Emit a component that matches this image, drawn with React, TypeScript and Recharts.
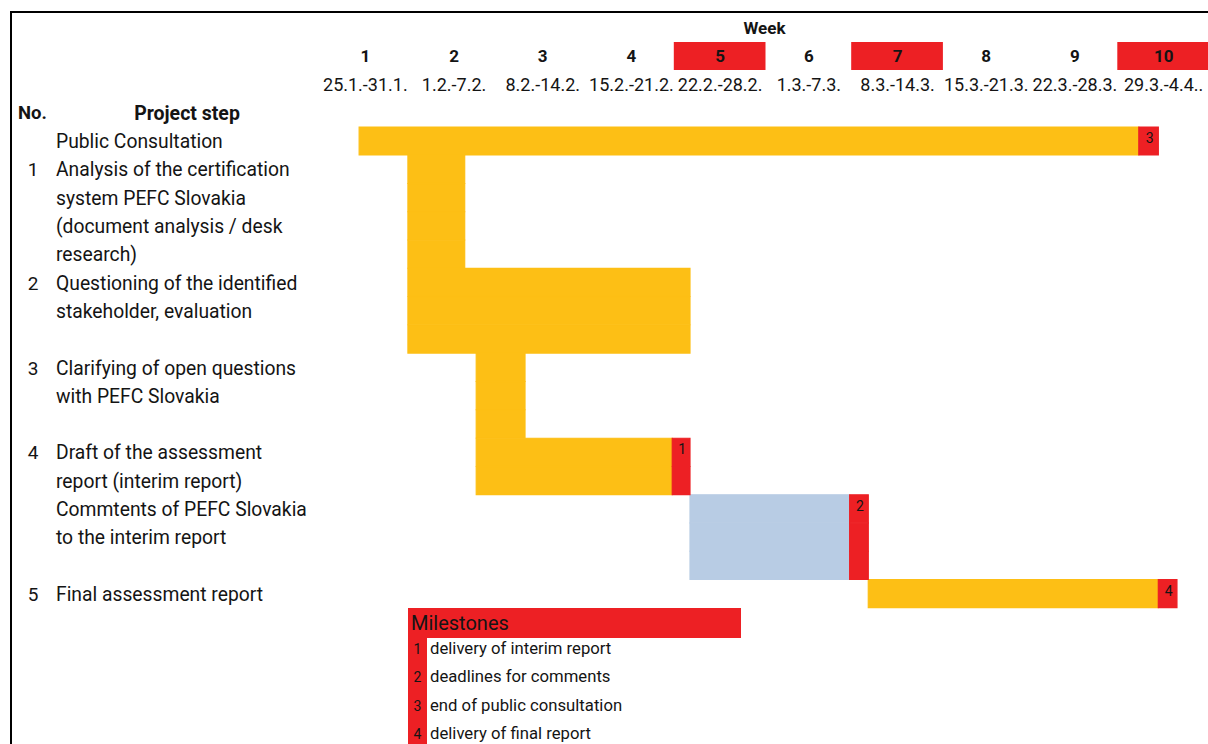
import React from "react";
import { BarChart, Bar, XAxis, YAxis, Cell, LabelList } from "recharts";

// ---- data ----
const weekNumbers = ["1", "2", "3", "4", "5", "6", "7", "8", "9", "10"];
const weekDates = ["25.1.-31.1.", "1.2.-7.2.", "8.2.-14.2.", "15.2.-21.2.", "22.2.-28.2.", "1.3.-7.3.", "8.3.-14.3.", "15.3.-21.3.", "22.3.-28.3.", "29.3.-4.4.."];
const highlightedWeeks = ["5", "7", "10"];

const taskNumbers = ["", "1", "2", "3", "4", "", "5"];
const taskLines = [
  ["Public Consultation"],
  ["Analysis of the certification", "system PEFC Slovakia", "(document analysis / desk", "research)"],
  ["Questioning of the identified", "stakeholder, evaluation", ""],
  ["Clarifying of open questions", "with PEFC Slovakia", ""],
  ["Draft of the assessment", "report (interim report)"],
  ["Commtents of PEFC Slovakia", "to the interim report", ""],
  ["Final assessment report"],
];
// start / end in weeks (0 = start of week 1)
const taskStart = [0.43, 0.98, 0.98, 1.75, 1.75, 4.16, 6.17];
const taskEnd = [9.22, 1.62, 4.16, 2.3, 3.96, 5.96, 9.44];
const milestoneEnd = [9.44, 0, 0, 0, 4.16, 6.17, 9.65];
const milestoneNumbers = ["3", "", "", "", "1", "2", "4"];
const taskKinds = ["work", "work", "work", "work", "work", "review", "work"];

const milestoneLegend = ["delivery of interim report", "deadlines for comments", "end of public consultation", "delivery of final report"];

// ---- styles ----
const YELLOW = "#FDBF15";
const RED = "#ED2024";
const BLUE = "#B8CCE4";
const TEXT = "#141414";
const FONT = "Roboto, 'Liberation Sans', Arial, sans-serif";

type Line = {
  key: string;
  no: string;
  text: string;
  offset: number;
  main: number;
  ms: number;
  msLabel: string;
  kind: string;
};

const lines: Line[] = [];
taskLines.forEach((tl, ti) => {
  tl.forEach((text, li) => {
    lines.push({
      key: `${ti}-${li}`,
      no: li === 0 ? taskNumbers[ti] : "",
      text,
      offset: taskStart[ti],
      main: taskEnd[ti] - taskStart[ti],
      ms: milestoneEnd[ti] ? milestoneEnd[ti] - taskEnd[ti] : 0,
      msLabel: li === 0 ? milestoneNumbers[ti] : "",
      kind: taskKinds[ti],
    });
  });
});

const COL_W = 887 / 10;

const WeekTick = (props: any) => {
  const { x, payload } = props;
  const idx = Math.floor(payload.value);
  const wk = weekNumbers[idx];
  const hi = highlightedWeeks.includes(wk);
  return (
    <g>
      {hi && <rect x={x - COL_W / 2 - 2} y={42} width={COL_W + 3} height={28} fill={RED} />}
      <text x={x} y={56} textAnchor="middle" dominantBaseline="central" fontFamily={FONT} fontWeight={700} fontSize={17} fill={TEXT}>
        {wk}
      </text>
      <text x={x} y={84} textAnchor="middle" dominantBaseline="central" fontFamily={FONT} fontSize={18} fill={TEXT}>
        {weekDates[idx]}
      </text>
    </g>
  );
};

const StepTick = (props: any) => {
  const { y, payload } = props;
  const line = lines.find((l) => l.key === payload.value);
  if (!line) return null;
  return (
    <g>
      <text x={33} y={y + 0.5} textAnchor="middle" dominantBaseline="central" fontFamily={FONT} fontSize={19} fill={TEXT}>
        {line.no}
      </text>
      <text x={56} y={y + 0.5} textAnchor="start" dominantBaseline="central" fontFamily={FONT} fontSize={19.3} fill={TEXT}>
        {line.text}
      </text>
    </g>
  );
};

const MilestoneLabel = (props: any) => {
  const { x, y, width, value } = props;
  if (!value) return null;
  return (
    <text x={x + width / 2 + 1} y={y + 11} textAnchor="middle" dominantBaseline="central" fontFamily={FONT} fontSize={14} fill={TEXT}>
      {value}
    </text>
  );
};

export default function App() {
  return (
    <div style={{ position: "absolute", left: 0, top: 0, width: 1208, height: 744, overflow: "hidden", background: "#fff" }}>
      <div style={{ position: "absolute", left: 10, top: 11, width: 1200, height: 740, borderTop: "2px solid #000", borderLeft: "2px solid #000" }} />
      <BarChart
        width={1208}
        height={744}
        data={lines}
        layout="vertical"
        margin={{ top: 13, right: 0, bottom: 136, left: 0 }}
        barCategoryGap={0}
        barGap={0}
      >
        <XAxis
          type="number"
          orientation="top"
          domain={[0, 10]}
          ticks={[0.5, 1.5, 2.5, 3.5, 4.5, 5.5, 6.5, 7.5, 8.5, 9.5]}
          interval={0}
          height={114}
          axisLine={false}
          tickLine={false}
          tick={<WeekTick />}
          allowDataOverflow
          label={(p: any) => {
            const vb = p.viewBox || {};
            return (
              <text x={(vb.x ?? 321) + (vb.width ?? 887) / 2} y={28} textAnchor="middle" dominantBaseline="central" fontFamily={FONT} fontWeight={700} fontSize={17} fill={TEXT}>
                Week
              </text>
            );
          }}
        />
        <YAxis
          type="category"
          dataKey="key"
          width={321}
          interval={0}
          axisLine={false}
          tickLine={false}
          tick={<StepTick />}
          label={() => (
            <g>
              <text x={18} y={113} dominantBaseline="central" fontFamily={FONT} fontWeight={700} fontSize={18.5} fill={TEXT}>
                No.
              </text>
              <text x={187} y={113} textAnchor="middle" dominantBaseline="central" fontFamily={FONT} fontWeight={700} fontSize={19.5} fill={TEXT}>
                Project step
              </text>
            </g>
          )}
        />
        <Bar dataKey="offset" stackId="g" fill="transparent" isAnimationActive={false} />
        <Bar dataKey="main" stackId="g" isAnimationActive={false}>
          {lines.map((l) => (
            <Cell key={l.key} fill={l.kind === "review" ? BLUE : YELLOW} stroke={l.kind === "review" ? BLUE : YELLOW} strokeWidth={1.2} />
          ))}
        </Bar>
        <Bar dataKey="ms" stackId="g" fill={RED} stroke={RED} strokeWidth={1.2} isAnimationActive={false}>
          <LabelList dataKey="msLabel" content={<MilestoneLabel />} />
        </Bar>
      </BarChart>
      <div style={{ position: "absolute", left: 408, top: 608, width: 333, fontFamily: FONT, color: TEXT }}>
        <div style={{ background: RED, height: 30, lineHeight: "30px", paddingLeft: 3, fontSize: 20 }}>Milestones</div>
        {milestoneLegend.map((t, i) => (
          <div key={t} style={{ display: "flex", height: 28.3, lineHeight: "22px" }}>
            <div style={{ width: 19, background: RED, textAlign: "center", fontSize: 14 }}>{i + 1}</div>
            <div style={{ paddingLeft: 3, fontSize: 16.7 }}>{t}</div>
          </div>
        ))}
      </div>
    </div>
  );
}
